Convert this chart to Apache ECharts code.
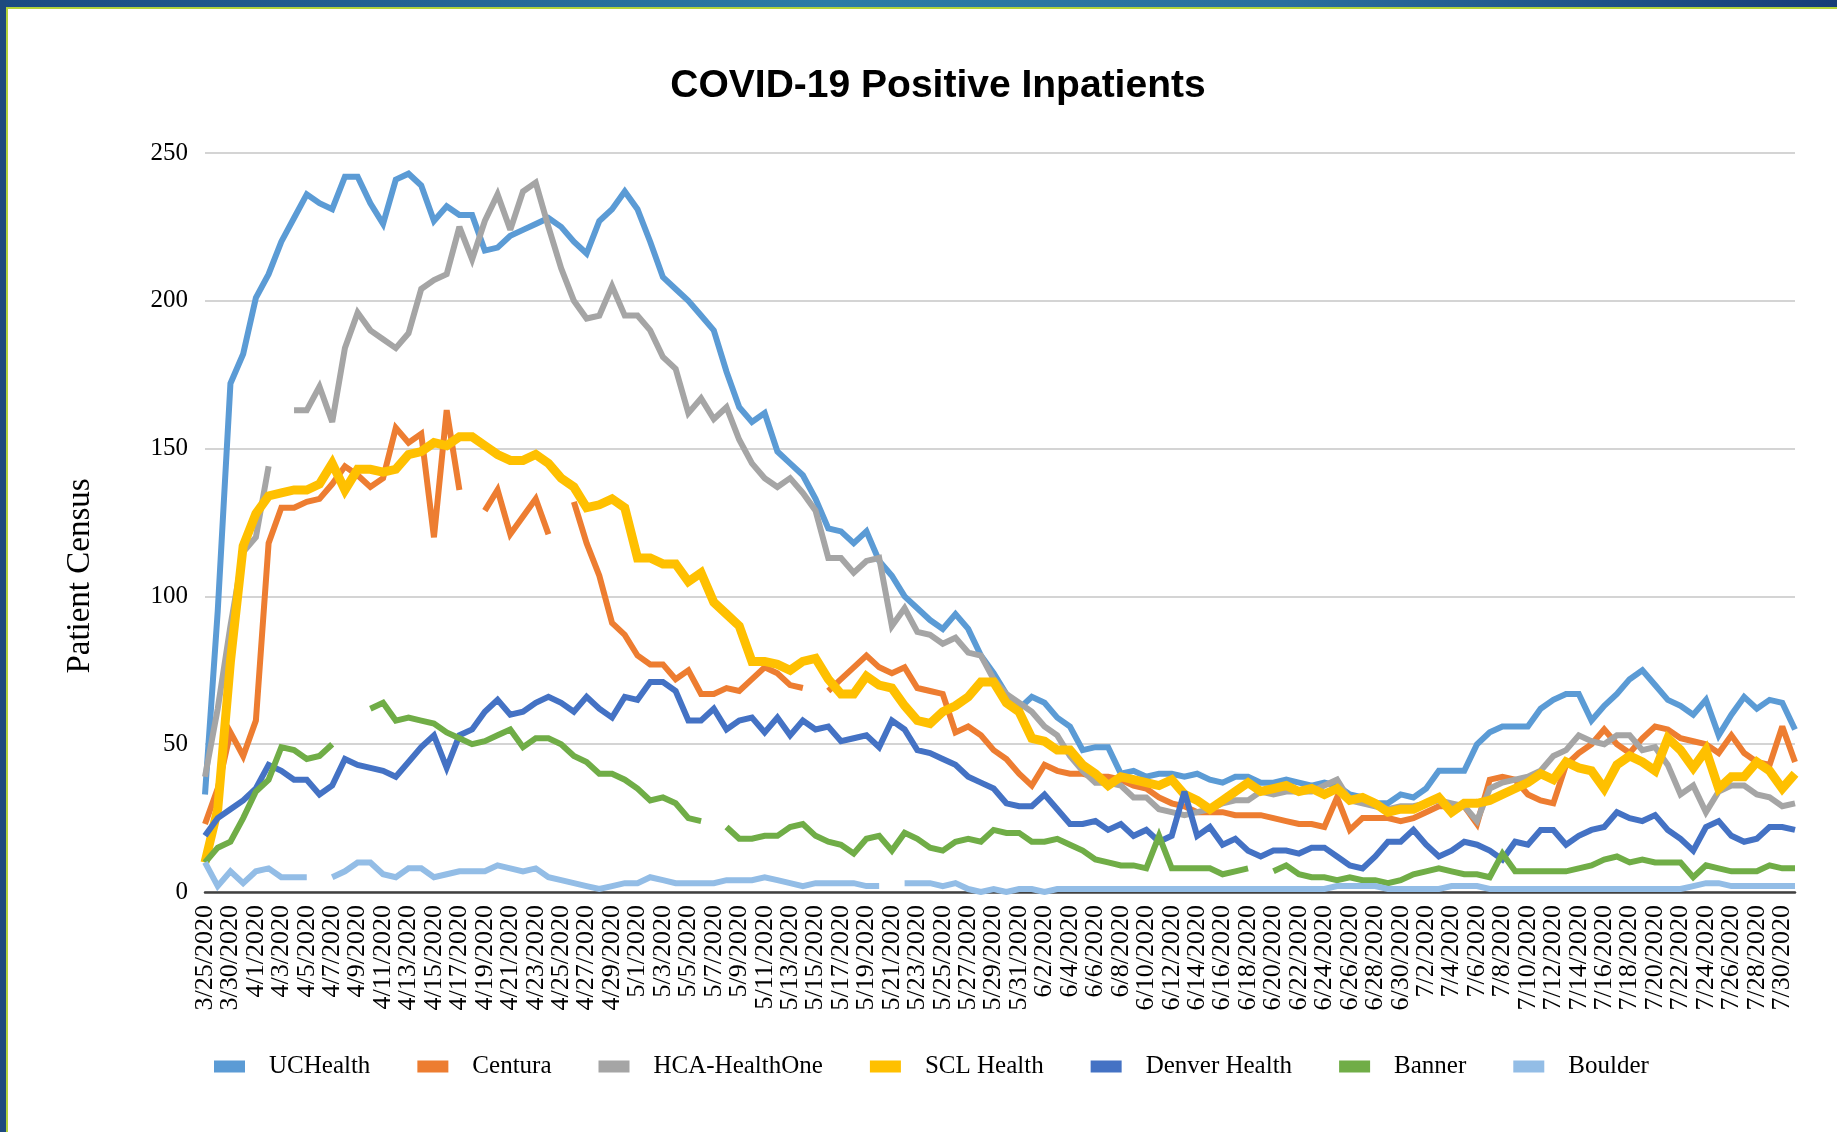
<!DOCTYPE html>
<html lang="en">
<head>
    <meta charset="UTF-8">
    <title>COVID-19 Positive Inpatients</title>
    <script src="https://cdn.jsdelivr.net/npm/echarts@6/dist/echarts.min.js"></script>
    <style>
        html, body { margin: 0; padding: 0; background: #fff; }
        #chart { position: absolute; left: 0; top: 0; width: 1837px; height: 1132px; }
        .band-top { position: absolute; left: 0; top: 0; width: 1837px; height: 7px;
            background: linear-gradient(to right, #1b4a82, #2c7ca6 45%, #2a6f9e 70%, #173d78); }
        .band-top-line { position: absolute; left: 0; top: 7px; width: 1837px; height: 2px; background: #b3d33a; }
        .band-left { position: absolute; left: 0; top: 0; width: 6px; height: 1132px; background: #1d4a7e; }
        .band-left-line { position: absolute; left: 6px; top: 7px; width: 2px; height: 1125px; background: #b3d33a; }
    </style>
</head>
<body>
<div id="chart"></div>
<div class="band-top"></div>
<div class="band-top-line"></div>
<div class="band-left"></div>
<div class="band-left-line"></div>

<script>
    // dates on the category axis (one unlabelled day between 3/25 and 3/30)
    var dates = [
        '3/25/2020', '3/27/2020', '3/30/2020', '3/31/2020',
        '4/1/2020', '4/2/2020', '4/3/2020', '4/4/2020', '4/5/2020', '4/6/2020', '4/7/2020', '4/8/2020', '4/9/2020', '4/10/2020',
        '4/11/2020', '4/12/2020', '4/13/2020', '4/14/2020', '4/15/2020', '4/16/2020', '4/17/2020', '4/18/2020', '4/19/2020', '4/20/2020',
        '4/21/2020', '4/22/2020', '4/23/2020', '4/24/2020', '4/25/2020', '4/26/2020', '4/27/2020', '4/28/2020', '4/29/2020', '4/30/2020',
        '5/1/2020', '5/2/2020', '5/3/2020', '5/4/2020', '5/5/2020', '5/6/2020', '5/7/2020', '5/8/2020', '5/9/2020', '5/10/2020',
        '5/11/2020', '5/12/2020', '5/13/2020', '5/14/2020', '5/15/2020', '5/16/2020', '5/17/2020', '5/18/2020', '5/19/2020', '5/20/2020',
        '5/21/2020', '5/22/2020', '5/23/2020', '5/24/2020', '5/25/2020', '5/26/2020', '5/27/2020', '5/28/2020', '5/29/2020', '5/30/2020',
        '5/31/2020',
        '6/1/2020', '6/2/2020', '6/3/2020', '6/4/2020', '6/5/2020', '6/6/2020', '6/7/2020', '6/8/2020', '6/9/2020', '6/10/2020',
        '6/11/2020', '6/12/2020', '6/13/2020', '6/14/2020', '6/15/2020', '6/16/2020', '6/17/2020', '6/18/2020', '6/19/2020', '6/20/2020',
        '6/21/2020', '6/22/2020', '6/23/2020', '6/24/2020', '6/25/2020', '6/26/2020', '6/27/2020', '6/28/2020', '6/29/2020', '6/30/2020',
        '7/1/2020', '7/2/2020', '7/3/2020', '7/4/2020', '7/5/2020', '7/6/2020', '7/7/2020', '7/8/2020', '7/9/2020', '7/10/2020',
        '7/11/2020', '7/12/2020', '7/13/2020', '7/14/2020', '7/15/2020', '7/16/2020', '7/17/2020', '7/18/2020', '7/19/2020', '7/20/2020',
        '7/21/2020', '7/22/2020', '7/23/2020', '7/24/2020', '7/25/2020', '7/26/2020', '7/27/2020', '7/28/2020', '7/29/2020', '7/30/2020',
        '7/31/2020'
    ];

    var ucHealth = [
        33, 95, 172, 182, 201, 209, 220, 228, 236, 233, 231, 242, 242, 233, 226, 241, 243, 239, 227, 232,
        229, 229, 217, 218, 222, 224, 226, 228, 225, 220, 216, 227, 231, 237, 231, 220, 208, 204, 200, 195,
        190, 176, 164, 159, 162, 149, 145, 141, 133, 123, 122, 118, 122, 112, 107, 100, 96, 92, 89, 94,
        89, 80, 74, 67, 62, 66, 64, 59, 56, 48, 49, 49, 40, 41, 39, 40, 40, 39, 40, 38,
        37, 39, 39, 37, 37, 38, 37, 36, 37, 36, 33, 32, 30, 30, 33, 32, 35, 41, 41, 41,
        50, 54, 56, 56, 56, 62, 65, 67, 67, 58, 63, 67, 72, 75, 70, 65, 63, 60, 65, 53,
        60, 66, 62, 65, 64, 55
    ];
    var centura = [
        23, 35, 54, 46, 58, 118, 130, 130, 132, 133, 138, 144, 141, 137, 140, 157, 152, 155, 120, 163,
        136, null, 129, 136, 121, 127, 133, 121, null, 132, 118, 107, 91, 87, 80, 77, 77, 72, 75, 67,
        67, 69, 68, 72, 76, 74, 70, 69, null, 68, 72, 76, 80, 76, 74, 76, 69, 68, 67, 54,
        56, 53, 48, 45, 40, 36, 43, 41, 40, 40, 39, 39, 38, 36, 35, 32, 30, 29, 27, 27,
        27, 26, 26, 26, 25, 24, 23, 23, 22, 32, 21, 25, 25, 25, 24, 25, 27, 29, 29, 29,
        23, 38, 39, 38, 33, 31, 30, 43, 47, 50, 55, 50, 47, 52, 56, 55, 52, 51, 50, 47,
        53, 47, 44, 43, 56, 44
    ];
    var hcaHealthOne = [
        39, 62, 90, 115, 120, 144, null, 163, 163, 171, 159, 184, 196, 190, 187, 184, 189, 204, 207, 209,
        225, 214, 227, 236, 224, 237, 240, 225, 211, 200, 194, 195, 205, 195, 195, 190, 181, 177, 162, 167,
        160, 164, 153, 145, 140, 137, 140, 135, 129, 113, 113, 108, 112, 113, 90, 96, 88, 87, 84, 86,
        81, 80, 72, 67, 64, 61, 56, 53, 46, 41, 37, 37, 36, 32, 32, 28, 27, 26, 27, 28,
        30, 31, 31, 34, 33, 34, 34, 34, 36, 38, 31, 30, 29, 28, 29, 29, 30, 31, 30, 29,
        24, 35, 37, 38, 39, 41, 46, 48, 53, 51, 50, 53, 53, 48, 49, 43, 33, 36, 27, 34,
        36, 36, 33, 32, 29, 30
    ];
    var sclHealth = [
        10, 28, 78, 117, 128, 134, 135, 136, 136, 138, 145, 136, 143, 143, 142, 143, 148, 149, 152, 151,
        154, 154, 151, 148, 146, 146, 148, 145, 140, 137, 130, 131, 133, 130, 113, 113, 111, 111, 105, 108,
        98, 94, 90, 78, 78, 77, 75, 78, 79, 72, 67, 67, 73, 70, 69, 63, 58, 57, 61, 63,
        66, 71, 71, 64, 61, 52, 51, 48, 48, 43, 40, 36, 39, 38, 37, 36, 38, 33, 31, 28,
        31, 34, 37, 34, 35, 36, 34, 35, 33, 35, 31, 32, 30, 27, 28, 28, 30, 32, 27, 30,
        30, 31, 33, 35, 37, 40, 38, 44, 42, 41, 35, 43, 46, 44, 41, 52, 48, 42, 48, 35,
        39, 39, 44, 41, 35, 40
    ];
    var denverHealth = [
        19, 25, 28, 31, 35, 43, 41, 38, 38, 33, 36, 45, 43, 42, 41, 39, 44, 49, 53, 42,
        53, 55, 61, 65, 60, 61, 64, 66, 64, 61, 66, 62, 59, 66, 65, 71, 71, 68, 58, 58,
        62, 55, 58, 59, 54, 59, 53, 58, 55, 56, 51, 52, 53, 49, 58, 55, 48, 47, 45, 43,
        39, 37, 35, 30, 29, 29, 33, 28, 23, 23, 24, 21, 23, 19, 21, 17, 19, 34, 19, 22,
        16, 18, 14, 12, 14, 14, 13, 15, 15, 12, 9, 8, 12, 17, 17, 21, 16, 12, 14, 17,
        16, 14, 11, 17, 16, 21, 21, 16, 19, 21, 22, 27, 25, 24, 26, 21, 18, 14, 22, 24,
        19, 17, 18, 22, 22, 21
    ];
    var banner = [
        10, 15, 17, 25, 34, 38, 49, 48, 45, 46, 50, null, null, 62, 64, 58, 59, 58, 57, 54,
        52, 50, 51, 53, 55, 49, 52, 52, 50, 46, 44, 40, 40, 38, 35, 31, 32, 30, 25, 24,
        null, 22, 18, 18, 19, 19, 22, 23, 19, 17, 16, 13, 18, 19, 14, 20, 18, 15, 14, 17,
        18, 17, 21, 20, 20, 17, 17, 18, 16, 14, 11, 10, 9, 9, 8, 19, 8, 8, 8, 8,
        6, 7, 8, null, 7, 9, 6, 5, 5, 4, 5, 4, 4, 3, 4, 6, 7, 8, 7, 6,
        6, 5, 13, 7, 7, 7, 7, 7, 8, 9, 11, 12, 10, 11, 10, 10, 10, 5, 9, 8,
        7, 7, 7, 9, 8, 8
    ];
    var boulder = [
        10, 2, 7, 3, 7, 8, 5, 5, 5, null, 5, 7, 10, 10, 6, 5, 8, 8, 5, 6,
        7, 7, 7, 9, 8, 7, 8, 5, 4, 3, 2, 1, 2, 3, 3, 5, 4, 3, 3, 3,
        3, 4, 4, 4, 5, 4, 3, 2, 3, 3, 3, 3, 2, 2, null, 3, 3, 3, 2, 3,
        1, 0, 1, 0, 1, 1, 0, 1, 1, 1, 1, 1, 1, 1, 1, 1, 1, 1, 1, 1,
        1, 1, 1, 1, 1, 1, 1, 1, 1, 2, 2, 2, 2, 1, 1, 1, 1, 1, 2, 2,
        2, 1, 1, 1, 1, 1, 1, 1, 1, 1, 1, 1, 1, 1, 1, 1, 1, 2, 3, 3,
        2, 2, 2, 2, 2, 2
    ];

    var seriesNames = ['UCHealth', 'Centura', 'HCA-HealthOne', 'SCL Health', 'Denver Health', 'Banner', 'Boulder'];
    var seriesData = [ucHealth, centura, hcaHealthOne, sclHealth, denverHealth, banner, boulder];
    var colors = ['#5B9BD5', '#ED7D31', '#A5A5A5', '#FFC000', '#4472C4', '#70AD47', '#93BDE6'];

    var serif = '"Liberation Serif", "DejaVu Serif", serif';
    var lastIdx = dates.length - 1;

    var myChart = echarts.init(document.getElementById('chart'));

    var series = [];
    for (var i = 0; i < seriesNames.length; i++) {
        series.push({
            name: seriesNames[i],
            type: 'line',
            data: seriesData[i],
            symbol: 'none',
            connectNulls: false,
            lineStyle: {
                color: colors[i],
                width: seriesNames[i] === 'SCL Health' ? 9 : 6,
                join: 'miter',
                miterLimit: 3,
                cap: 'butt'
            },
            itemStyle: { color: colors[i] }
        });
    }

    var dateLabel = {
        rotate: 90,
        margin: 13,
        fontFamily: serif,
        fontSize: 26,
        color: '#000'
    };

    var option = {
        animation: false,
        backgroundColor: '#ffffff',
        color: colors,
        title: {
            text: 'COVID-19 Positive Inpatients',
            left: 933,
            top: 62,
            textAlign: 'center',
            textStyle: {
                fontFamily: '"Liberation Sans", Arial, sans-serif',
                fontWeight: 'bold',
                fontSize: 39,
                color: '#000'
            }
        },
        legend: {
            data: seriesNames,
            left: 209,
            top: 1049,
            icon: 'rect',
            itemWidth: 31,
            itemHeight: 12,
            itemGap: 47,
            textStyle: {
                fontFamily: serif,
                fontSize: 25,
                color: '#000',
                padding: [0, 0, 0, 19]
            }
        },
        graphic: [{
            type: 'text',
            x: 80,
            y: 576,
            rotation: Math.PI / 2,
            style: {
                text: 'Patient Census',
                font: '33px "Liberation Serif", serif',
                fill: '#000',
                textAlign: 'center',
                textVerticalAlign: 'middle'
            }
        }],
        grid: {
            left: 205,
            right: 42,
            top: 153,
            bottom: 240,
            containLabel: false
        },
        xAxis: [{
            // main axis: every other date; ECharts drops the 2nd and 2nd-to-last labels here
            type: 'category',
            data: dates,
            position: 'bottom',
            boundaryGap: false,
            axisLine: { lineStyle: { color: '#404040', width: 2.5 } },
            axisTick: { show: false },
            axisLabel: Object.assign({
                interval: function (index) { return index % 2 === 0; },
                showMinLabel: true,
                showMaxLabel: true
            }, dateLabel),
            splitLine: { show: false }
        }, {
            // overlay axis that only puts back 3/30 and 7/28
            type: 'category',
            data: dates,
            position: 'bottom',
            offset: 0,
            boundaryGap: false,
            axisLine: { show: false },
            axisTick: { show: false },
            axisLabel: Object.assign({
                interval: function (index) { return index === 2 || index === lastIdx - 3; }
            }, dateLabel),
            splitLine: { show: false }
        }],
        yAxis: {
            type: 'value',
            min: 0,
            max: 250,
            interval: 50,
            axisLine: { show: false },
            axisTick: { show: false },
            axisLabel: {
                margin: 17,
                fontFamily: serif,
                fontSize: 25,
                color: '#000'
            },
            splitLine: { lineStyle: { color: '#D4D4D4', width: 2 } }
        },
        series: series
    };

    myChart.setOption(option);
</script>
</body>
</html>
